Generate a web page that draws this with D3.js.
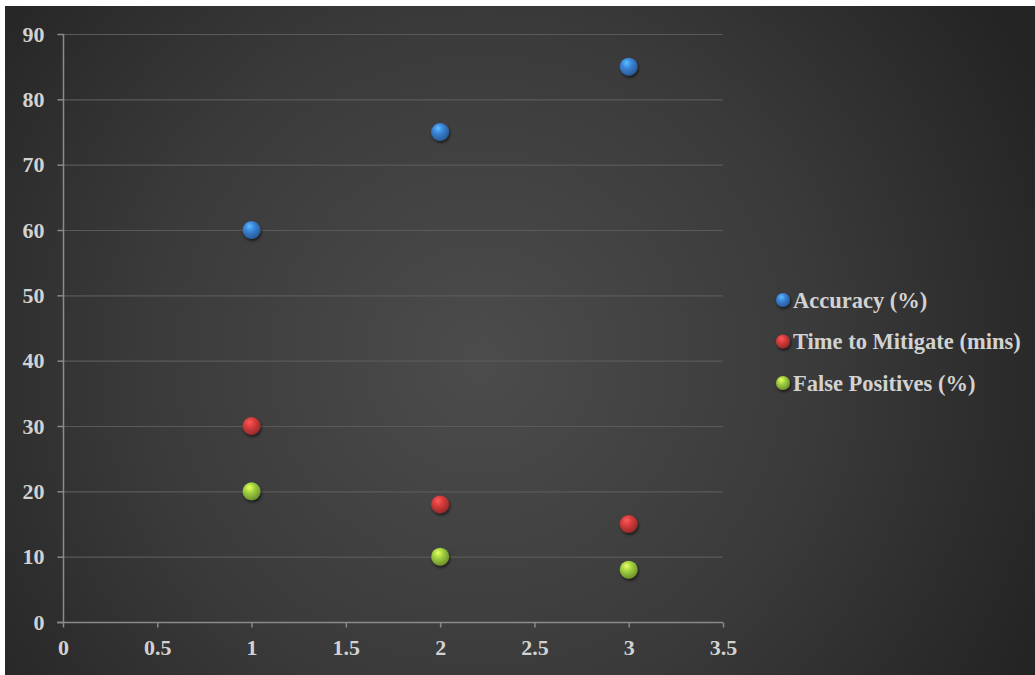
<!DOCTYPE html>
<html>
<head>
<meta charset="utf-8">
<script src="https://cdn.jsdelivr.net/npm/d3@7"></script>
<style>
  html, body { margin: 0; padding: 0; background: #ffffff; }
  svg { display: block; }
</style>
</head>
<body>
<svg id="chart" width="1035" height="675"></svg>
<script>
// Chart data
const xValues = [1, 2, 3];
const accuracy = [60, 75, 85];
const timeToMitigate = [30, 18, 15];
const falsePositives = [20, 10, 8];
const seriesNames = ["Accuracy (%)", "Time to Mitigate (mins)", "False Positives (%)"];
const seriesColors = ["#3b82d6", "#d63c3c", "#9fd040"];
const xTicks = [0, 0.5, 1, 1.5, 2, 2.5, 3, 3.5];
const yTicks = [0, 10, 20, 30, 40, 50, 60, 70, 80, 90];

const series = [accuracy, timeToMitigate, falsePositives].map((vals, i) => ({
  name: seriesNames[i],
  color: seriesColors[i],
  points: vals.map((v, j) => ({ x: xValues[j], y: v }))
}));

const svg = d3.select("#chart");
const W = 1035, H = 675;
const defs = svg.append("defs");

// Dark radial background
const bg = defs.append("radialGradient").attr("id", "bgGrad")
  .attr("gradientUnits", "userSpaceOnUse")
  .attr("cx", 480).attr("cy", 360).attr("r", 620);
bg.append("stop").attr("offset", "0%").attr("stop-color", "#4c4c4c");
bg.append("stop").attr("offset", "55%").attr("stop-color", "#3a3a3a");
bg.append("stop").attr("offset", "100%").attr("stop-color", "#242424");

svg.append("rect").attr("x", 5).attr("y", 6).attr("width", W - 5).attr("height", H - 6)
  .attr("fill", "url(#bgGrad)");

// Spherical marker gradients
series.forEach((s, i) => {
  const g = defs.append("radialGradient").attr("id", "ball" + i)
    .attr("cx", "40%").attr("cy", "35%").attr("r", "65%").attr("fx", "38%").attr("fy", "28%");
  const c = d3.color(s.color);
  g.append("stop").attr("offset", "0%").attr("stop-color", c.brighter(1.1));
  g.append("stop").attr("offset", "45%").attr("stop-color", c);
  g.append("stop").attr("offset", "100%").attr("stop-color", c.darker(1.0));
});
const shadow = defs.append("filter").attr("id", "shadow")
  .attr("x", "-50%").attr("y", "-50%").attr("width", "200%").attr("height", "200%");
shadow.append("feGaussianBlur").attr("in", "SourceAlpha").attr("stdDeviation", 1.5).attr("result", "b");
shadow.append("feOffset").attr("in", "b").attr("dx", 0.5).attr("dy", 1.5).attr("result", "o");
shadow.append("feComponentTransfer").attr("in", "o").attr("result", "s")
  .append("feFuncA").attr("type", "linear").attr("slope", 0.6);
const merge = shadow.append("feMerge");
merge.append("feMergeNode").attr("in", "s");
merge.append("feMergeNode").attr("in", "SourceGraphic");

// Scales
const x = d3.scaleLinear().domain([0, 3.5]).range([63, 723]);
const y = d3.scaleLinear().domain([0, 90]).range([622, 34]);

const font = "'Liberation Serif', 'Times New Roman', serif";
const textColor = "#d2d2d2";

// Gridlines
svg.append("g").selectAll("line").data(yTicks.filter(d => d > 0)).join("line")
  .attr("x1", x(0)).attr("x2", x(3.5))
  .attr("y1", d => y(d) + 0.5).attr("y2", d => y(d) + 0.5)
  .attr("stroke", "#5a5a5a").attr("stroke-width", 1.2);

// Y axis
const yAxis = svg.append("g").attr("transform", `translate(${x(0) + 0.5},0)`)
  .call(d3.axisLeft(y).tickValues(yTicks).tickSize(6).tickPadding(13).tickFormat(d3.format("d")));
yAxis.select(".domain").attr("stroke", "#8a8a8a").attr("stroke-width", 1.5)
  .attr("d", `M0,${y(90)}V${y(0)}`);
yAxis.selectAll(".tick line").attr("stroke", "#8a8a8a").attr("stroke-width", 1.5);
yAxis.selectAll(".tick text").attr("fill", textColor).attr("font-family", font)
  .attr("font-weight", "bold").attr("font-size", 22);

// X axis
const xAxis = svg.append("g").attr("transform", `translate(0,${y(0) + 0.5})`)
  .call(d3.axisBottom(x).tickValues(xTicks).tickSize(5).tickPadding(12).tickFormat(d => String(d)));
xAxis.select(".domain").attr("stroke", "#8a8a8a").attr("stroke-width", 1.5)
  .attr("d", `M${x(0) - 6},0H${x(3.5)}`);
xAxis.selectAll(".tick line").attr("stroke", "#8a8a8a").attr("stroke-width", 1.5);
xAxis.selectAll(".tick text").attr("fill", textColor).attr("font-family", font)
  .attr("font-weight", "bold").attr("font-size", 22);

// Points
series.forEach((s, i) => {
  svg.append("g").selectAll("circle").data(s.points).join("circle")
    .attr("cx", d => x(d.x)).attr("cy", d => y(d.y)).attr("r", 9)
    .attr("fill", `url(#ball${i})`).attr("filter", "url(#shadow)");
});

// Legend
const legend = svg.append("g").attr("transform", "translate(783,300)");
const rows = legend.selectAll("g").data(series).join("g")
  .attr("transform", (d, i) => `translate(0,${i * 41.5})`);
rows.append("circle").attr("r", 7).attr("fill", (d, i) => `url(#ball${i})`)
  .attr("filter", "url(#shadow)");
rows.append("text").attr("x", 10).attr("dy", "0.35em")
  .attr("fill", textColor).attr("font-family", font).attr("font-weight", "bold")
  .attr("font-size", 22.5).text(d => d.name);
</script>
</body>
</html>
